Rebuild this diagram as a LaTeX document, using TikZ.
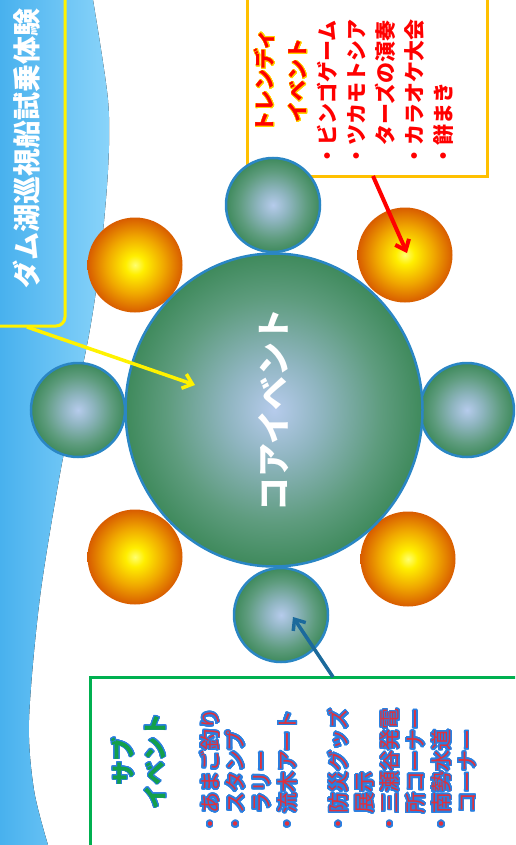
\documentclass[tikz,border=0pt]{standalone}
\usepackage{fontspec}
\newfontfamily\jp{Noto Sans CJK JP}
\usepackage{contour}
\contournumber{24}
\contourlength{1pt}
\usetikzlibrary{shapes.geometric,arrows.meta}
\definecolor{skyL}{HTML}{48B1EE}
\definecolor{skyR}{HTML}{8AD4FA}
\definecolor{oc0}{HTML}{FFFF70}
\definecolor{oc1}{HTML}{FFEE00}
\definecolor{oc2}{HTML}{F0A800}
\definecolor{oc3}{HTML}{D85C00}
\definecolor{gc0}{HTML}{B6CBEC}
\definecolor{gc1}{HTML}{8FB5C0}
\definecolor{gc2}{HTML}{5E9C7E}
\definecolor{gc3}{HTML}{3F8A5C}
\definecolor{ballline}{HTML}{2A86C4}
\definecolor{oframe}{HTML}{FFC000}
\definecolor{gframe}{HTML}{00B050}
\definecolor{barrow}{HTML}{1B6A9C}
\definecolor{subblue}{HTML}{2A7FE0}
\definecolor{subgreen}{HTML}{13A04A}
\definecolor{trendout}{HTML}{FFD200}
\definecolor{subcore}{HTML}{E0303C}
\pgfdeclareradialshading{orangeball}{\pgfpoint{0bp}{0bp}}{color(0bp)=(oc0); color(5bp)=(oc1); color(15bp)=(oc2); color(25bp)=(oc3); color(50bp)=(oc3)}
\pgfdeclareradialshading{greenball}{\pgfpoint{0bp}{0bp}}{color(0bp)=(gc0); color(8bp)=(gc1); color(18bp)=(gc2); color(25bp)=(gc3); color(50bp)=(gc3)}
\newcommand\subln[1]{\rlap{\contourlength{0.9pt}\textcolor{subblue}{\contour{subblue}{\bfseries #1}}}\textcolor{subcore}{#1}}
\begin{document}
\begin{tikzpicture}[x=1pt,y=-1pt,
  gball/.style={circle, draw=ballline, line width=2.5pt, shade, shading=greenball, minimum size=94pt, inner sep=0pt},
  oball/.style={circle, shade, shading=orangeball, minimum size=95pt, inner sep=0pt},
  frame/.style={rectangle, line width=3pt, inner sep=0pt},
  vtext/.style={rotate=90, inner sep=0pt},
  arr/.style={line width=3.5pt, -{Straight Barb[length=9pt,width=15pt]}},
]
\useasboundingbox (0,0) rectangle (515,845);
\clip (0,0) rectangle (515,845);
\fill[left color=skyL, right color=skyR] (0,0) -- plot[smooth] coordinates {(93,0) (108,100) (108,170) (100,260) (88,340) (62,463) (40,597) (29,720) (34,790) (48,845)} -- (0,845) -- cycle;

\node[frame, draw=yellow, rounded corners=9pt, minimum width=105pt, minimum height=366pt] (ycall) at (12.5,143) {};
\node[frame, draw=oframe, minimum width=240pt, minimum height=200pt] (tbox) at (367,77) {};
\node[frame, draw=gframe, minimum width=450pt, minimum height=200pt] (sbox) at (315,777) {};

\node[oball] (o1) at (135,265) {};
\node[oball] (o2) at (405,255) {};
\node[oball] (o3) at (135,557) {};
\node[oball] (o4) at (408,559) {};
\node[gball] (g1) at (273,205) {};
\node[gball] (g2) at (78,410) {};
\node[gball] (g3) at (467,410) {};
\node[gball] (g4) at (281,615) {};
\node[gball, ellipse, minimum width=297pt, minimum height=313pt] (core) at (274,410) {};

\node[vtext, text=white, font=\jp\bfseries\fontsize{34}{40}\selectfont] (coret) at (core.center) {コアイベント};
\node[vtext, text=white, font=\jp\bfseries\fontsize{28}{30}\selectfont] (ytxt) at (27,148) {ダム湖巡視船試乗体験};

\node[vtext, align=center, text=red, font=\jp\bfseries\fontsize{21}{33}\selectfont] (ttl) at (281,81) {\contourlength{0.55pt}\contour{trendout}{トレンディ}\\\contourlength{0.55pt}\contour{trendout}{イベント}};
\node[vtext, anchor=west, align=left, text=red, font=\jp\bfseries\fontsize{21}{29}\selectfont] (titems) at (385,167) {・ビンゴゲーム\\・ツカモトシア\\\hphantom{・}ターズの演奏\\・カラオケ大会\\・餅まき};

\node[vtext, align=center, text=subgreen, font=\jp\bfseries\fontsize{24}{32}\selectfont] (stl) at (139,761) {\contourlength{0.8pt}\contour{subblue}{サブ}\\\contourlength{0.8pt}\contour{subblue}{イベント}};
\node[vtext, anchor=west, align=left, font=\jp\fontsize{21}{25.7}\selectfont] (sitems) at (338.5,835) {\subln{・あまご釣り}\\\subln{・スタンプ}\\\subln{\hphantom{・}ラリー}\\\subln{・流木アート}\\[25.7pt]\subln{・防災グッズ}\\\subln{\hphantom{・}展示}\\\subln{・三瀬谷発電}\\\subln{\hphantom{・}所コーナー}\\\subln{・南勢水道}\\\subln{\hphantom{・}コーナー}};

\coordinate (yS) at (27,327);
\coordinate (yE) at (195,385);
\draw[arr, yellow] (yS) -- (yE);
\coordinate (rS) at (373,176);
\coordinate (rE) at (407,253);
\draw[arr, red, line width=4pt] (rS) -- (rE);
\coordinate (bS) at (333,677);
\coordinate (bE) at (293,617);
\draw[arr, barrow] (bS) -- (bE);
\end{tikzpicture}
\end{document}
